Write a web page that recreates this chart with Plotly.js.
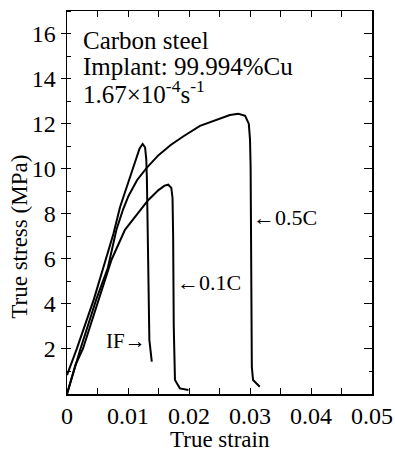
<!DOCTYPE html>
<html>
<head>
<meta charset="utf-8">
<script src="https://cdn.plot.ly/plotly-3.0.1.min.js"></script>
<style>html,body{margin:0;padding:0;background:#fff;}#chart{width:395px;height:457px;}</style>
</head>
<body>
<div id="chart"></div>
<script>
// True strain / true stress (MPa)
const strainIF   = [0, 0.0016, 0.0044, 0.0062, 0.0076, 0.0087, 0.0100, 0.0111, 0.0119, 0.0124, 0.0128, 0.0130, 0.0131, 0.0133, 0.0135, 0.0139];
const stressIF   = [0.84, 2.0, 4.2, 5.8, 7.1, 8.3, 9.4, 10.3, 10.9, 11.1, 10.95, 10.4, 9.5, 6.0, 2.4, 1.44];

const strain01C  = [0, 0.0007, 0.0014, 0.0026, 0.0052, 0.0073, 0.0095, 0.0115, 0.0133, 0.0150, 0.0160, 0.0166, 0.0171, 0.0173, 0.0174, 0.0175, 0.0176, 0.0177, 0.0185, 0.0199];
const stress01C  = [0, 0.62, 1.3, 2.0, 4.2, 5.96, 7.29, 8.0, 8.6, 9.05, 9.25, 9.29, 9.15, 8.7, 7.0, 3.0, 1.0, 0.62, 0.25, 0.18];

const strain05C  = [0, 0.0022, 0.0048, 0.0067, 0.0081, 0.0092, 0.0101, 0.0115, 0.0131, 0.0150, 0.0170, 0.0191, 0.0218, 0.0245, 0.0267, 0.0281, 0.0292, 0.0298, 0.0300, 0.0301, 0.0302, 0.0303, 0.0303, 0.0305, 0.0316];
const stress05C  = [0, 2.0, 4.2, 5.6, 7.29, 8.2, 8.8, 9.5, 10.05, 10.6, 11.05, 11.44, 11.9, 12.15, 12.38, 12.44, 12.35, 12.0, 11.3, 10.1, 6.0, 2.0, 1.2, 0.62, 0.32];

const xTickVals = [0, 0.01, 0.02, 0.03, 0.04, 0.05];
const xTickText = ['0', '0.01', '0.02', '0.03', '0.04', '0.05'];
const yTickVals = [2, 4, 6, 8, 10, 12, 14, 16];
const yTickText = ['2', '4', '6', '8', '10', '12', '14', '16'];

const infoLines = ['Carbon steel', 'Implant: 99.994%Cu', '1.67×10<sup>-4</sup>s<sup>-1</sup>'];
const infoY = [0.922, 0.855, 0.788];

const FONT = 'Liberation Serif';
const lineStyle = {color: '#000', width: 2};

const traces = [
  {x: strainIF, y: stressIF, mode: 'lines', line: lineStyle, name: 'IF'},
  {x: strain01C, y: stress01C, mode: 'lines', line: lineStyle, name: '0.1C'},
  {x: strain05C, y: stress05C, mode: 'lines', line: lineStyle, name: '0.5C'},
  {x: [], y: [], yaxis: 'y2', mode: 'lines', showlegend: false, hoverinfo: 'skip'}
];

const annotations = [
  {xref: 'paper', yref: 'paper', x: 0.5, y: -0.12, xanchor: 'center', yanchor: 'middle',
   text: 'True strain', showarrow: false, font: {family: FONT, size: 23, color: '#000'}},
  {xref: 'paper', yref: 'paper', x: -0.155, y: 0.41, xanchor: 'center', yanchor: 'middle', textangle: -90,
   text: 'True stress (MPa)', showarrow: false, font: {family: FONT, size: 23, color: '#000'}},
  {xref: 'x', yref: 'y', x: 0.0133, y: 2.35, xanchor: 'right', yanchor: 'middle',
   text: 'IF→', showarrow: false, font: {family: FONT, size: 21, color: '#000'}},
  {xref: 'x', yref: 'y', x: 0.0177, y: 4.95, xanchor: 'left', yanchor: 'middle',
   text: '←0.1C', showarrow: false, font: {family: FONT, size: 22, color: '#000'}},
  {xref: 'x', yref: 'y', x: 0.0301, y: 7.85, xanchor: 'left', yanchor: 'middle',
   text: '←0.5C', showarrow: false, font: {family: FONT, size: 22, color: '#000'}}
];
infoLines.forEach((t, i) => annotations.push({
  xref: 'paper', yref: 'paper', x: 0.045, y: infoY[i], xanchor: 'left', yanchor: 'middle',
  text: t, showarrow: false, font: {family: FONT, size: 25, color: '#000'}
}));

const layout = {
  width: 395, height: 457,
  margin: {l: 67, r: 23, t: 11, b: 63},
  paper_bgcolor: '#fff', plot_bgcolor: '#fff',
  showlegend: false,
  font: {family: FONT, size: 24, color: '#000'},
  xaxis: {
    range: [0, 0.05], tickmode: 'array', tickvals: xTickVals, ticktext: xTickText,
    ticks: 'inside', ticklen: 6, tickwidth: 1, tickcolor: '#000',
    minor: {tickmode: 'linear', tick0: 0, dtick: 0.005, ticks: 'inside', ticklen: 4, tickcolor: '#000', showgrid: false},
    showline: true, linecolor: '#000', linewidth: 1.5, mirror: 'allticks',
    showgrid: false, zeroline: false,
    tickfont: {family: FONT, size: 24, color: '#000'}
  },
  yaxis: {
    range: [0, 17], tickmode: 'array', tickvals: yTickVals, ticktext: yTickText,
    ticks: 'outside', ticklen: 5, tickwidth: 1, tickcolor: '#000',
    minor: {tickmode: 'linear', tick0: 0, dtick: 1, ticks: 'inside', ticklen: 4, tickcolor: '#000', showgrid: false},
    showline: true, linecolor: '#000', linewidth: 1.5,
    showgrid: false, zeroline: false,
    tickfont: {family: FONT, size: 24, color: '#000'}
  },
  yaxis2: {
    overlaying: 'y', side: 'right', range: [0, 17],
    tickmode: 'linear', tick0: 0, dtick: 2, showticklabels: false,
    ticks: 'inside', ticklen: 8, tickwidth: 1, tickcolor: '#000',
    minor: {tickmode: 'linear', tick0: 0, dtick: 1, ticks: 'inside', ticklen: 3, tickcolor: '#000', showgrid: false},
    showline: true, linecolor: '#000', linewidth: 1.5,
    showgrid: false, zeroline: false
  },
  annotations: annotations
};

Plotly.newPlot('chart', traces, layout, {staticPlot: true, displayModeBar: false}).then(() => {
  document.querySelectorAll('.xtick text, .ytick text').forEach(t => {
    t.style.fontFamily = "'Liberation Serif', serif";
  });
});
</script>
</body>
</html>
